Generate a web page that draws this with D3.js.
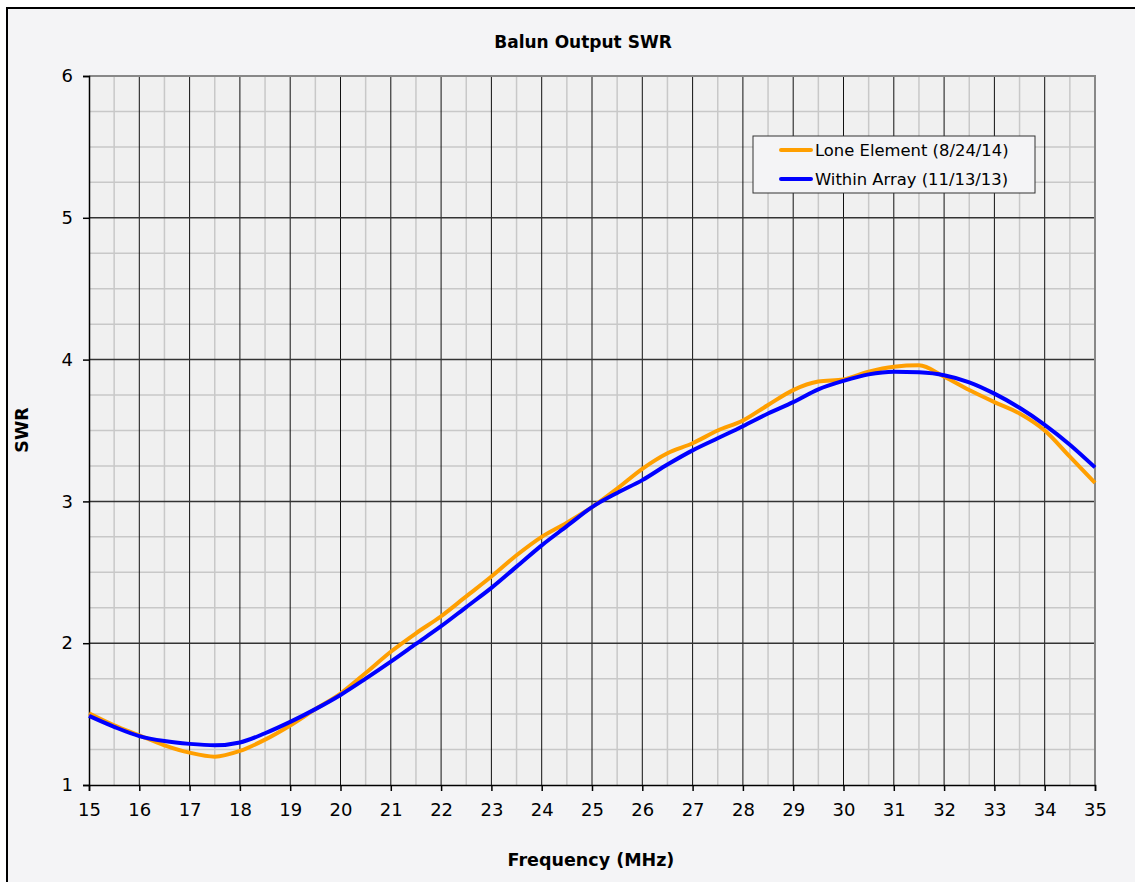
<!DOCTYPE html>
<html>
<head>
<meta charset="utf-8">
<script src="https://cdn.jsdelivr.net/npm/d3@7"></script>
<style>
  body { margin: 0; background: #ffffff; }
  text { font-family: "DejaVu Sans", Verdana, sans-serif; fill: #000; }
</style>
</head>
<body>
<div id="chart"></div>
<script>
// frequency points (MHz)
const freq = [15, 15.5, 16, 16.5, 17, 17.5, 18, 18.5, 19, 19.5, 20, 20.5, 21, 21.5, 22, 22.5, 23, 23.5, 24, 24.5, 25,
    25.5, 26, 26.5, 27, 27.5, 28, 28.5, 29, 29.5, 30, 30.5, 31, 31.5, 32, 32.5, 33, 33.5, 34, 34.5, 35]
// Lone Element (8/24/14)
const loneSwr = [1.505, 1.42, 1.35, 1.28, 1.228, 1.20, 1.24, 1.32, 1.42, 1.535, 1.645, 1.79, 1.94, 2.07, 2.19, 2.33, 2.47, 2.62, 2.75, 2.85, 2.96,
    3.09, 3.23, 3.34, 3.41, 3.50, 3.57, 3.68, 3.785, 3.845, 3.86, 3.915, 3.95, 3.96, 3.88, 3.785, 3.70, 3.62, 3.50, 3.315, 3.13]
// Within Array (11/13/13)
const arraySwr = [1.487, 1.41, 1.345, 1.31, 1.29, 1.28, 1.30, 1.365, 1.445, 1.535, 1.635, 1.75, 1.87, 1.995, 2.12, 2.255, 2.39, 2.54, 2.69, 2.825, 2.96,
    3.06, 3.15, 3.26, 3.36, 3.445, 3.53, 3.62, 3.70, 3.79, 3.85, 3.896, 3.915, 3.91, 3.89, 3.84, 3.76, 3.66, 3.54, 3.40, 3.24]

const seriesNames = ["Lone Element (8/24/14)", "Within Array (11/13/13)"]
const seriesColors = ["#ff9f00", "#0000ff"]
const xTicks = d3.range(15, 36, 1)
const yTicks = [1, 2, 3, 4, 5, 6]

const width = 1135, height = 882
const plot = {left: 89, right: 1095, top: 76, bottom: 785}

const svg = d3.select("#chart").append("svg")
    .attr("width", width)
    .attr("height", height)

// chart frame
svg.append("rect")
    .attr("x", 7).attr("y", 8)
    .attr("width", 1160).attr("height", 900)
    .attr("fill", "#f4f4f6")
    .attr("stroke", "#000")
    .attr("stroke-width", 2)

const x = d3.scaleLinear().domain([15, 35]).range([plot.left, plot.right])
const y = d3.scaleLinear().domain([1, 6]).range([plot.bottom, plot.top])

svg.append("rect")
    .attr("x", plot.left).attr("y", plot.top)
    .attr("width", plot.right - plot.left).attr("height", plot.bottom - plot.top)
    .attr("fill", "#f0f0f0")

// minor grid
const grid = svg.append("g")
grid.selectAll(".vminor").data(d3.range(15.5, 35, 1))
    .join("line")
    .attr("x1", d => x(d)).attr("x2", d => x(d))
    .attr("y1", plot.top).attr("y2", plot.bottom)
    .attr("stroke", "#c8c8c8").attr("stroke-width", 1.5)
grid.selectAll(".hminor").data(d3.range(1.25, 6, 0.25).filter(d => Math.abs(d - Math.round(d)) > 0.01))
    .join("line")
    .attr("x1", plot.left).attr("x2", plot.right)
    .attr("y1", d => y(d)).attr("y2", d => y(d))
    .attr("stroke", "#c8c8c8").attr("stroke-width", 1.5)
// major grid
grid.selectAll(".vmajor").data(xTicks.slice(1, -1))
    .join("line")
    .attr("x1", d => x(d)).attr("x2", d => x(d))
    .attr("y1", plot.top).attr("y2", plot.bottom)
    .attr("stroke", "#111").attr("stroke-width", 1)
grid.selectAll(".hmajor").data(yTicks.slice(1, -1))
    .join("line")
    .attr("x1", plot.left).attr("x2", plot.right)
    .attr("y1", d => y(d)).attr("y2", d => y(d))
    .attr("stroke", "#333").attr("stroke-width", 1.5)

// plot border top / right
svg.append("path")
    .attr("d", `M${plot.left},${plot.top}H${plot.right}V${plot.bottom}`)
    .attr("fill", "none")
    .attr("stroke", "#888").attr("stroke-width", 2)

// axes
const xAxis = svg.append("g")
    .attr("transform", "translate(0," + plot.bottom + ")")
    .call(d3.axisBottom(x).tickValues(xTicks).tickSize(6).tickPadding(12).tickFormat(d3.format("d")))
const yAxis = svg.append("g")
    .attr("transform", "translate(" + plot.left + ",0)")
    .call(d3.axisLeft(y).tickValues(yTicks).tickSize(6).tickPadding(10).tickFormat(d3.format("d")))
for (const ax of [xAxis, yAxis]) {
    ax.attr("font-size", 18).attr("font-family", "'DejaVu Sans', Verdana, sans-serif")
    ax.select(".domain").attr("stroke", "#000").attr("stroke-width", 1.5)
    ax.selectAll(".tick line").attr("stroke", "#000").attr("stroke-width", 1.5)
    ax.selectAll(".tick text").attr("fill", "#000")
}

// series lines
const lineGen = d3.line()
    .x(d => x(d[0]))
    .y(d => y(d[1]))
    .curve(d3.curveMonotoneX)
const seriesValues = [loneSwr, arraySwr]
seriesValues.forEach((vals, i) => {
    svg.append("path")
        .attr("d", lineGen(freq.map((f, j) => [f, vals[j]])))
        .attr("fill", "none")
        .attr("stroke", seriesColors[i])
        .attr("stroke-width", 4)
        .attr("stroke-linejoin", "round")
})

// titles
svg.append("text")
    .attr("x", 583).attr("y", 48)
    .attr("text-anchor", "middle")
    .style("font-size", "17px").style("font-weight", "bold")
    .text("Balun Output SWR")
svg.append("text")
    .attr("x", 591).attr("y", 866)
    .attr("text-anchor", "middle")
    .style("font-size", "17.5px").style("font-weight", "bold")
    .text("Frequency (MHz)")
svg.append("text")
    .attr("transform", "translate(28,430) rotate(-90)")
    .attr("text-anchor", "middle")
    .style("font-size", "17.5px").style("font-weight", "bold")
    .text("SWR")

// legend
const legend = svg.append("g")
legend.append("rect")
    .attr("x", 753).attr("y", 136)
    .attr("width", 282).attr("height", 57)
    .attr("fill", "#f4f4f6")
    .attr("stroke", "#333").attr("stroke-width", 1)
seriesNames.forEach((name, i) => {
    const ly = 150 + i * 29
    legend.append("line")
        .attr("x1", 781).attr("x2", 811)
        .attr("y1", ly).attr("y2", ly)
        .attr("stroke", seriesColors[i]).attr("stroke-width", 4)
        .attr("stroke-linecap", "round")
    legend.append("text")
        .attr("x", 815).attr("y", ly + 6)
        .style("font-size", "16.4px")
        .text(name)
})
</script>
</body>
</html>
